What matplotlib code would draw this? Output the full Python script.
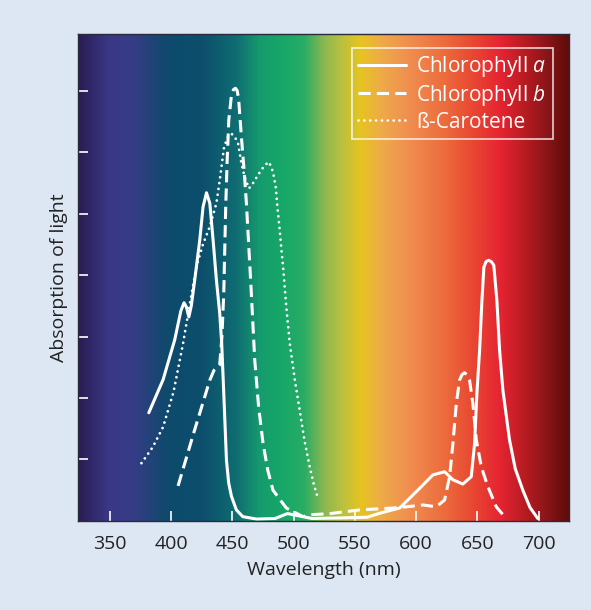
import matplotlib as mpl
import matplotlib.pyplot as plt
from matplotlib.colors import LinearSegmentedColormap
import numpy

plt.rcParams['font.family'] = ['Open Sans', 'DejaVu Sans']
plt.rcParams['mathtext.fontset'] = 'custom'
plt.rcParams['mathtext.it'] = 'Open Sans:italic'

# absorption curves (wavelength nm, relative absorption)
chlA_wl = [381.8, 393.5, 403, 408, 410.6, 412.5, 414.5, 416.5, 419.3, 423.4, 426.1, 428.9,
           431.6, 434.3, 437, 439.7, 441.3, 443, 445.2, 447, 449.3, 453.3, 458.5, 470,
           485, 495, 505, 515, 540, 560, 570.3, 586.6, 602.9, 613.8, 623.3, 630.1, 638.2,
           645.1, 647.8, 649.7, 651.9, 653.8, 655.4, 657.2, 659.2, 661.4, 663.5, 666,
           668.2, 670.9, 676.3, 681, 687.2, 693, 699.4]
chlA_abs = [1.76, 2.30, 2.95, 3.42, 3.55, 3.48, 3.32, 3.5, 3.92, 4.57, 5.11, 5.34,
            5.17, 4.57, 3.92, 3.38, 2.9, 2.08, 0.99, 0.62, 0.40, 0.18, 0.07, 0.03,
            0.04, 0.12, 0.08, 0.04, 0.05, 0.06, 0.125, 0.21, 0.53, 0.75, 0.80, 0.67, 0.60,
            0.72, 1.26, 2.08, 2.78, 3.59, 4.13, 4.22, 4.24, 4.22, 4.16, 3.59,
            2.78, 2.13, 1.32, 0.85, 0.50, 0.22, 0.04]

chlB_wl = [405.7, 418, 431.6, 435, 439.7, 441.5, 443, 444.6, 445.7, 447.1, 449.3, 451,
           452.6, 454, 455.2, 457.4, 459.6, 461.5, 465, 468.3, 471.5, 475.1, 479, 483.2,
           494.1, 507.7, 513, 530, 554, 581, 592, 605.6, 616.5, 623.3, 627.4, 630.1, 632.9,
           635.5, 637.5, 639.6, 641.7, 643.7, 646.4, 649.2, 653.3, 658.6, 665.5, 672.3]
chlB_abs = [0.57, 1.4, 2.29, 2.45, 2.54, 3.0, 3.70, 5.11, 5.82, 6.52, 6.93, 7.02,
            7.04, 7.0, 6.85, 6.25, 5.71, 5.17, 3.9, 2.62, 1.85, 1.26, 0.82, 0.50,
            0.21, 0.07, 0.10, 0.12, 0.18, 0.21, 0.23, 0.26, 0.23, 0.34, 0.72, 1.26, 1.91,
            2.29, 2.38, 2.41, 2.38, 2.29, 1.91, 1.32, 0.88, 0.56, 0.23, 0.07]

car_wl = [375.8, 385, 393.5, 402, 409.8, 415, 420.7, 426, 431.6, 437, 439.7, 443.3,
          446.5, 449.3, 452, 454.7, 457.4, 460, 463.6, 467, 471, 476.5, 480, 483.2,
          485.4, 486.8, 488.7, 490.1, 491.4, 494, 496.9, 501, 505, 509, 513.2, 516.5, 519.9]
car_abs = [0.94, 1.2, 1.53, 2.1, 2.89, 3.5, 4.14, 4.5, 4.79, 5.17, 5.54, 6.09,
           6.25, 6.30, 6.25, 6.14, 5.82, 5.6, 5.41, 5.5, 5.63, 5.79, 5.84, 5.68,
           5.44, 5.11, 4.73, 4.41, 4.15, 3.5, 2.89, 2.3, 1.80, 1.3, 0.88, 0.6, 0.37]

xticks = [350, 400, 450, 500, 550, 600, 650, 700]
yticks = [1, 2, 3, 4, 5, 6, 7]

xMin, xMax = 324.0, 725.0
yMax = 7.92

# visible spectrum colours behind the curves
spectrum = [(0.00, '#2a1d52'), (0.06, '#3a3886'), (0.11, '#363c86'), (0.18, '#0e4a6c'),
            (0.25, '#0c4e6c'), (0.32, '#0f6c72'), (0.37, '#159c6c'), (0.42, '#18a868'),
            (0.46, '#2aac64'), (0.50, '#8ab850'), (0.535, '#b8c040'), (0.575, '#e6c420'),
            (0.62, '#eea94a'), (0.67, '#f09050'), (0.75, '#ec6a3c'), (0.80, '#e84a32'),
            (0.86, '#e62432'), (0.91, '#b81c22'), (0.95, '#90161a'), (1.00, '#5e0c08')]
specCmap = LinearSegmentedColormap.from_list('spectrum', spectrum)

fig = plt.figure(figsize=(5.91, 6.10), dpi=100, facecolor='#dce7f3')
ax = fig.add_axes([0.132, 0.146, 0.831, 0.798])

grad = numpy.linspace(0.0, 1.0, 600).reshape(1, -1)
ax.imshow(grad, cmap=specCmap, extent=[xMin, xMax, 0, yMax], aspect='auto', zorder=0)

ax.plot(chlA_wl, chlA_abs, color='white', lw=2.2, label=r'Chlorophyll $a$',
        solid_capstyle='round', solid_joinstyle='round')
ax.plot(chlB_wl, chlB_abs, color='white', lw=2.2, linestyle=(0, (4, 2)),
        label=r'Chlorophyll $b$', dash_joinstyle='round')
ax.plot(car_wl, car_abs, color='white', lw=2.0, linestyle=(0, (0.01, 2.1)),
        dash_capstyle='round', label='ß-Carotene')

ax.set_xlim(xMin, xMax)
ax.set_ylim(0, yMax)
ax.set_xticks(xticks)
ax.set_yticks(yticks)
ax.set_yticklabels([])
ax.tick_params(axis='both', direction='in', color='white', length=7, width=1.2)
ax.tick_params(axis='x', labelsize=14, colors='white', labelcolor='#222222', pad=10)
for s in ax.spines.values():
    s.set_color('#2a2a3a')
    s.set_linewidth(1.0)

ax.set_xlabel('Wavelength (nm)', fontsize=14, color='#222222', labelpad=6)
ax.set_ylabel('Absorption of light', fontsize=14, color='#222222', labelpad=4)

leg = ax.legend(loc='upper right', bbox_to_anchor=(0.967, 0.972), fontsize=15,
                frameon=True, fancybox=False, handlelength=2.3, labelspacing=0.18,
                borderpad=0.3, handletextpad=0.5, borderaxespad=0.0)
leg.get_frame().set_facecolor('none')
leg.get_frame().set_edgecolor('white')
leg.get_frame().set_linewidth(1.2)
for t in leg.get_texts():
    t.set_color('white')

fig.savefig('out.png', dpi=100, facecolor=fig.get_facecolor())
